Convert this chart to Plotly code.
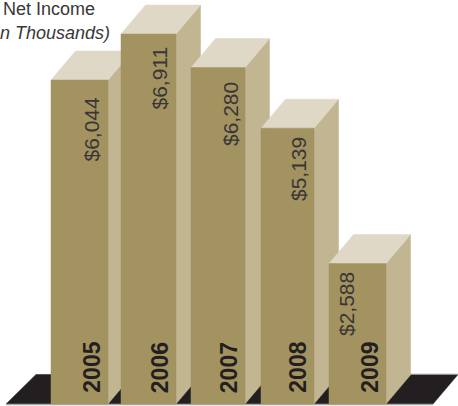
import plotly.graph_objects as go

# Net income by year, in thousands of dollars
years = ["2005", "2006", "2007", "2008", "2009"]
net_income = [6044, 6911, 6280, 5139, 2588]
value_labels = ["$6,044", "$6,911", "$6,280", "$5,139", "$2,588"]

# Horizontal extent of each column's front face, in axis units
left_edges = [51, 121, 191, 261, 329]
right_edges = [108, 176, 245, 314, 386]

# Placement of the rotated labels, in axis units
value_label_x = [91, 160, 230, 298, 346]
value_label_top = [5763, 6704, 6045, 5009, 2467]
year_label_x = [92, 159.5, 228.5, 298, 370]

# Extrusion of the blocks: x offset in axis units, y offset in value units
DEPTH_X = 24.5
DEPTH_Y = 546
BASE = -57

Y_MIN, Y_MAX = -94, 7552
FRONT, SIDE, TOP = "#a39360", "#c2b592", "#e0d8c6"
INK = "#231f20"
TEXT = "#3a3637"
FLOOR_Y0, FLOOR_Y1 = BASE, 500


def polygon(xs, ys, color):
    return go.Scatter(x=xs + xs[:1], y=ys + ys[:1], mode="lines", fill="toself",
                      fillcolor=color, line=dict(color=color, width=0.5),
                      hoverinfo="skip", showlegend=False)


fig = go.Figure()

# Floor slab, with a thin grey rim along its edges
fig.add_trace(polygon([6, 36, 458, 433], [FLOOR_Y0, FLOOR_Y1, FLOOR_Y1, FLOOR_Y0], INK))
fig.add_trace(go.Scatter(x=[6, 433], y=[BASE - 10, BASE - 10], mode="lines",
                         line=dict(color="#a9a9a9", width=1.5),
                         hoverinfo="skip", showlegend=False))
fig.add_trace(go.Scatter(x=[410, 458], y=[FLOOR_Y1 + 8, FLOOR_Y1 + 8], mode="lines",
                         line=dict(color="#c8c8c8", width=1),
                         hoverinfo="skip", showlegend=False))

# Blocks are drawn left to right so each one overlaps its neighbour's side face
for value, x0, x1 in zip(net_income, left_edges, right_edges):
    fig.add_trace(polygon([x1, x1 + DEPTH_X, x1 + DEPTH_X, x1],
                          [BASE, BASE + DEPTH_Y, value + DEPTH_Y, value], SIDE))
    fig.add_trace(polygon([x0, x0 + DEPTH_X, x1 + DEPTH_X, x1],
                          [value, value + DEPTH_Y, value + DEPTH_Y, value], TOP))
    fig.add_trace(polygon([x0, x1, x1, x0], [BASE, BASE, value, value], FRONT))

annotations = []
for year, label, top, vx, yx in zip(years, value_labels, value_label_top, value_label_x, year_label_x):
    annotations.append(dict(x=vx, y=top, text=label, textangle=-90,
                            xanchor="center", yanchor="top", showarrow=False,
                            font=dict(family="Liberation Sans", size=21, color=TEXT)))
    annotations.append(dict(x=yx, y=110, text=f"<b>{year}</b>", textangle=-90,
                            xanchor="center", yanchor="bottom", showarrow=False,
                            font=dict(family="Liberation Sans", size=23, color=INK)))

# Chart heading in the upper left corner
annotations.append(dict(x=97, y=7375, text="Net Income", xanchor="right", yanchor="middle",
                        showarrow=False,
                        font=dict(family="Liberation Sans", size=18, color=TEXT)))
annotations.append(dict(x=112, y=6940, text="<i>(In Thousands)</i>", xanchor="right",
                        yanchor="middle", showarrow=False,
                        font=dict(family="Liberation Sans", size=18, color=TEXT)))

fig.update_layout(
    width=458, height=406, margin=dict(l=0, r=0, t=0, b=0),
    paper_bgcolor="white", plot_bgcolor="white", showlegend=False,
    xaxis=dict(range=[0, 458], visible=False, fixedrange=True),
    yaxis=dict(range=[Y_MIN, Y_MAX], visible=False, fixedrange=True),
    annotations=annotations,
)

fig.write_html("out.html", config={"displayModeBar": False})
